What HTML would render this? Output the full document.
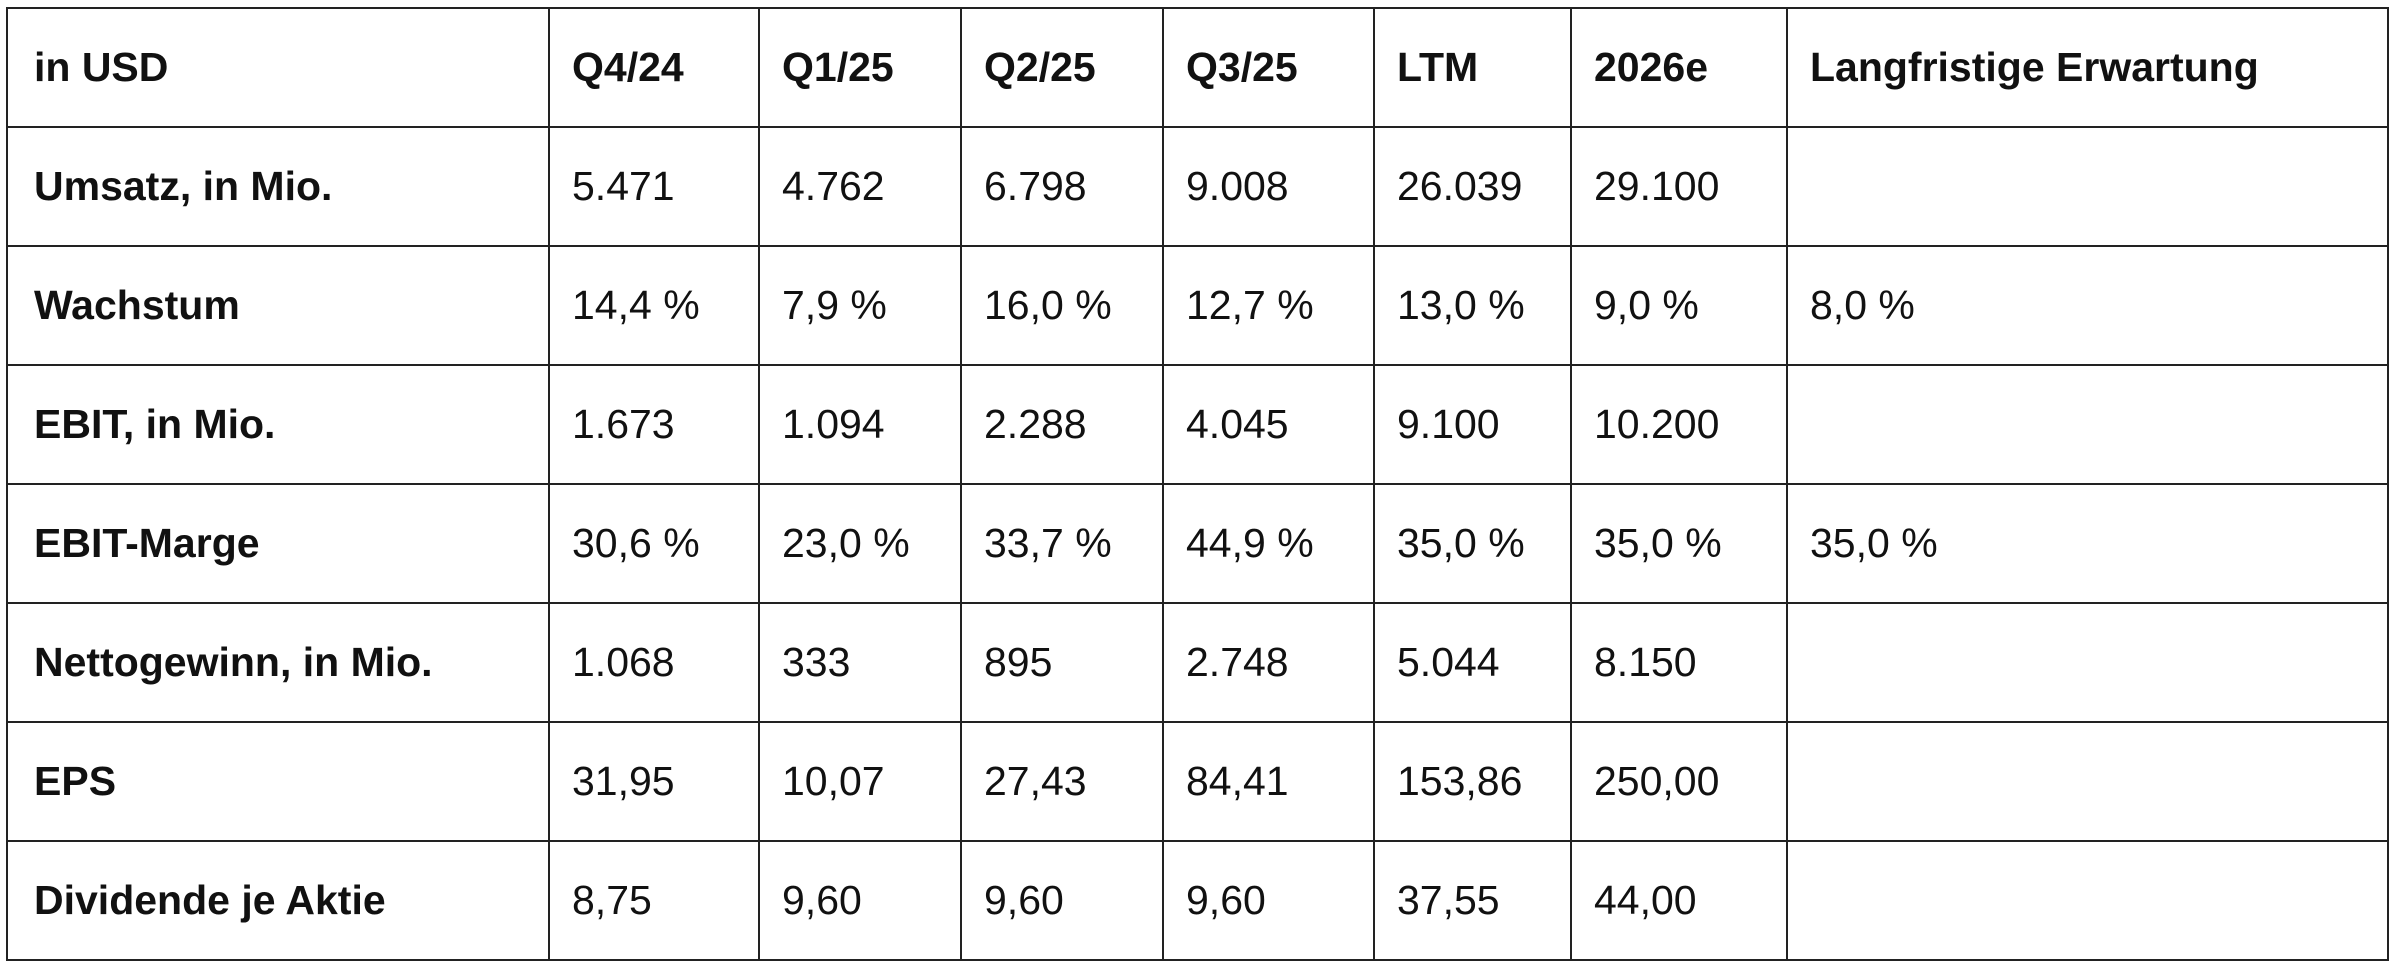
<!DOCTYPE html>
<html><head><meta charset="utf-8"><style>
html,body{margin:0;padding:0;background:#fff;width:2400px;height:979px;overflow:hidden}
table{position:absolute;left:6px;top:7px;border-collapse:collapse;table-layout:fixed;font-family:"Liberation Sans",sans-serif;color:#111}
td{border:2.5px solid #222;height:117px;padding:0 0 0 22px;font-size:41px;font-weight:normal;vertical-align:middle;white-space:nowrap}
td.h{font-weight:bold;padding-left:26px}
tr.top td{font-weight:bold}
</style></head><body>
<table>
<colgroup><col style="width:542px"><col style="width:210px"><col style="width:202px"><col style="width:202px"><col style="width:211px"><col style="width:197px"><col style="width:216px"><col style="width:601px"></colgroup>
<tr class="top"><td class="h">in USD</td><td>Q4/24</td><td>Q1/25</td><td>Q2/25</td><td>Q3/25</td><td>LTM</td><td>2026e</td><td>Langfristige Erwartung</td></tr>
<tr><td class="h">Umsatz, in Mio.</td><td>5.471</td><td>4.762</td><td>6.798</td><td>9.008</td><td>26.039</td><td>29.100</td><td></td></tr>
<tr><td class="h">Wachstum</td><td>14,4 %</td><td>7,9 %</td><td>16,0 %</td><td>12,7 %</td><td>13,0 %</td><td>9,0 %</td><td>8,0 %</td></tr>
<tr><td class="h">EBIT, in Mio.</td><td>1.673</td><td>1.094</td><td>2.288</td><td>4.045</td><td>9.100</td><td>10.200</td><td></td></tr>
<tr><td class="h">EBIT-Marge</td><td>30,6 %</td><td>23,0 %</td><td>33,7 %</td><td>44,9 %</td><td>35,0 %</td><td>35,0 %</td><td>35,0 %</td></tr>
<tr><td class="h">Nettogewinn, in Mio.</td><td>1.068</td><td>333</td><td>895</td><td>2.748</td><td>5.044</td><td>8.150</td><td></td></tr>
<tr><td class="h">EPS</td><td>31,95</td><td>10,07</td><td>27,43</td><td>84,41</td><td>153,86</td><td>250,00</td><td></td></tr>
<tr><td class="h">Dividende je Aktie</td><td>8,75</td><td>9,60</td><td>9,60</td><td>9,60</td><td>37,55</td><td>44,00</td><td></td></tr>
</table>
</body></html>
